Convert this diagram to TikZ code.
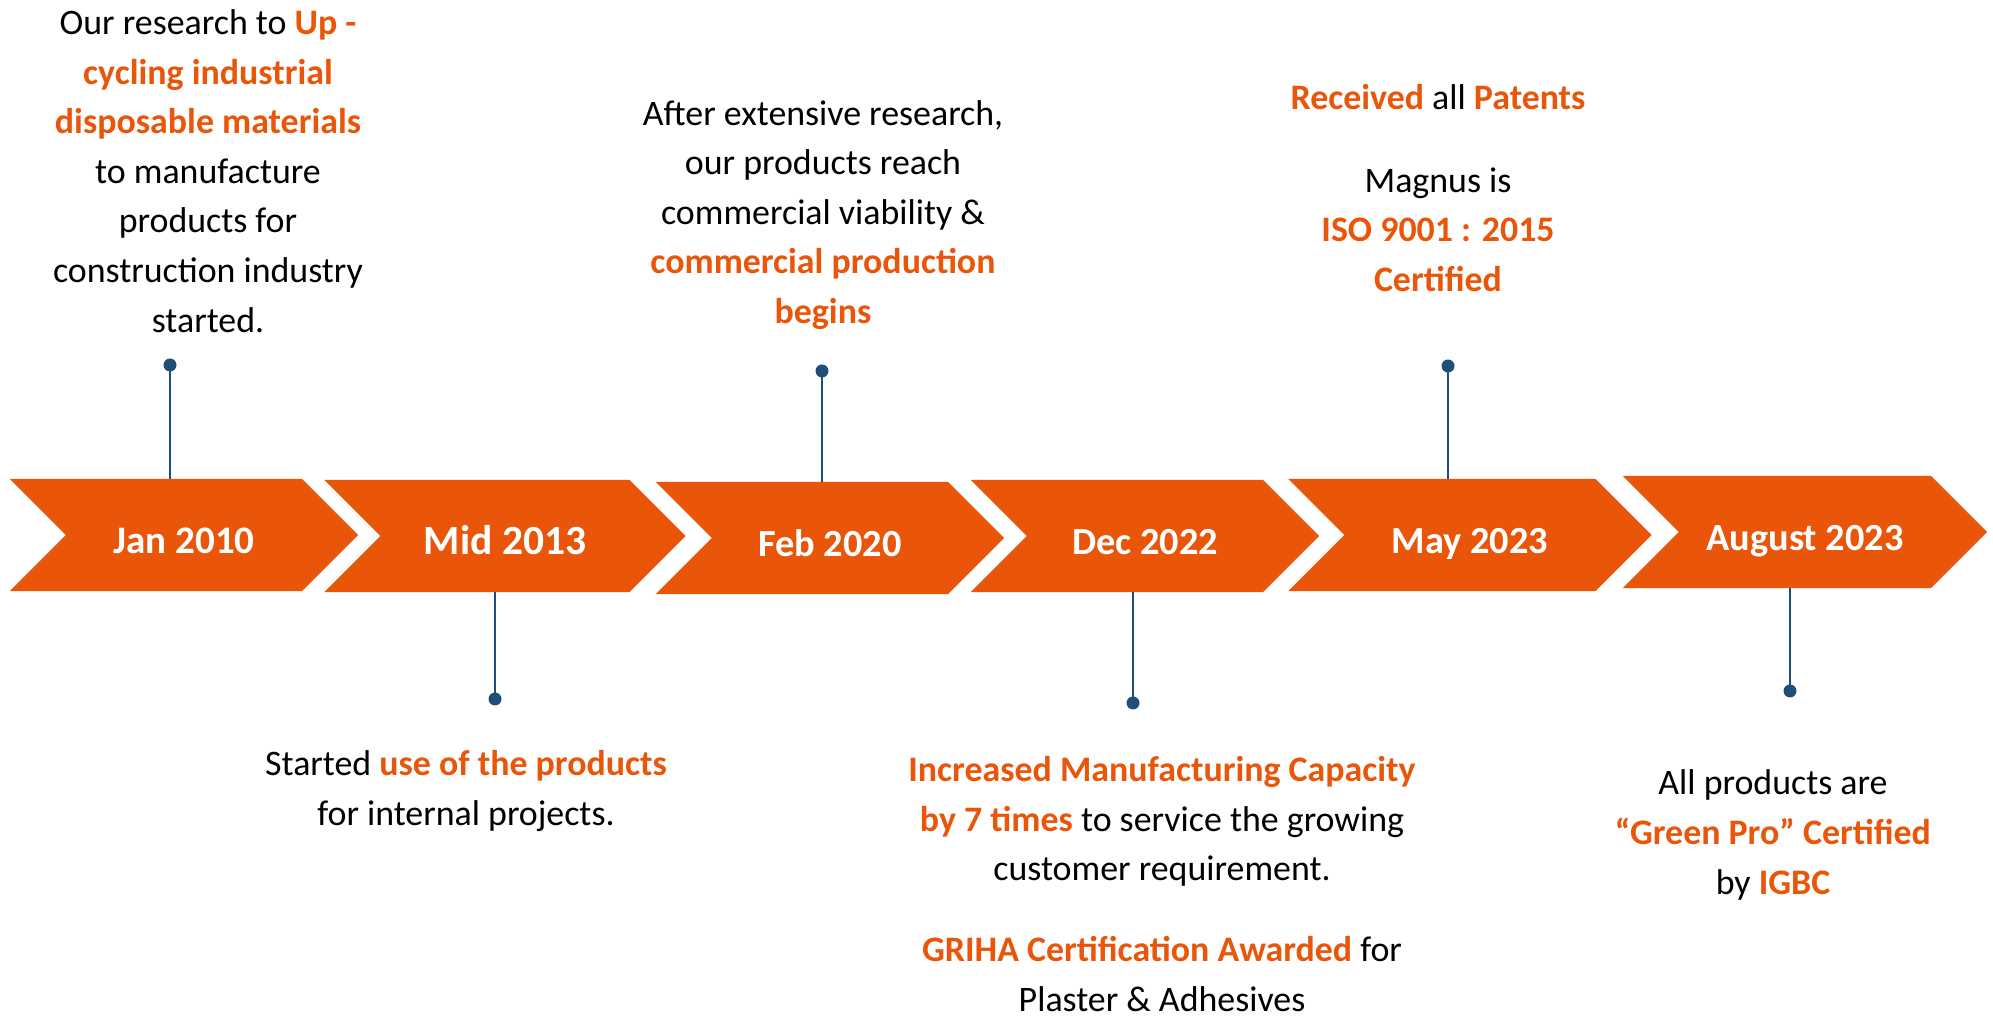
\documentclass[tikz,border=0pt]{standalone}
\usepackage{fontspec}
\setmainfont{Carlito}
\usepackage{tikz}
\usetikzlibrary{shapes.symbols}
\usepackage{xcolor}
\definecolor{myorange}{HTML}{E95509}
\definecolor{mydarkblue}{HTML}{1F4E79}
\newcommand{\hl}[1]{{\bfseries\color{myorange}#1}}
\tikzset{
  chevron/.style={signal,signal from=west,signal to=east,signal pointer angle=90,
                  fill=myorange,draw=none,text=white,minimum height=1.12cm,
                  inner sep=0,outer sep=0,text height=1.05em,text depth=0em},
  pin dot/.style={circle,fill=mydarkblue,inner sep=0,minimum size=0.13cm},
  stem/.style={mydarkblue,line width=0.025cm},
  story/.style={align=center,inner sep=0,font=\fontsize{10.2}{14.1}\selectfont}
}

\begin{document}
\begin{tikzpicture}[x=0.01cm,y=-0.01cm]
  \useasboundingbox (0,0) rectangle (1993,1016);

  % Draw the chevrons of the time line
  \foreach \t/\cx/\cy/\w/\fs [count=\i] in {Jan 2010/184/535/3.48/11.1,
      Mid 2013/505/536/3.61/11.8, Feb 2020/830/538/3.48/10.9,
      Dec 2022/1145/536/3.48/10.9, May 2023/1470/535/3.63/10.9,
      August 2023/1805/532/3.64/10.9}{%
    \node[chevron,minimum width=\w cm,font=\bfseries\fontsize{\fs}{14}\selectfont] (c\i) at (\cx,\cy) {\t};
  }

  % Pins: dot plus stem to the chevron
  \foreach \x/\y/\side [count=\i] in {170/365/north, 495/699/south, 822/371/north,
      1133/703/south, 1448/366/north, 1790/691/south}{%
    \node[pin dot] (d\i) at (\x,\y) {};
    \draw[stem] (d\i.center) -- (d\i |- c\i.\side);
  }

  % Texts above the time line
  \node[story] (s1) at (208,171) {Our research to \hl{Up -}\\ \hl{cycling industrial}\\
    \hl{disposable materials}\\ to manufacture\\ products for\\ construction industry\\ started.};
  \node[story] (s3) at (823,215) {After extensive research,\\ our products reach\\
    commercial viability \&\\ \hl{commercial production}\\ \hl{begins}};
  \node[story] (s5) at (1438,188) {\hl{Received} all \hl{Patents}\\[0.33cm] Magnus is\\
    \hl{ISO 9001 : 2015}\\ \hl{Certified}};

  % Texts below the time line
  \node[story] (s2) at (466,791) {Started \hl{use of the products}\\ for internal projects.};
  \node[story] (s4) at (1162,884) {\hl{Increased Manufacturing Capacity}\\
    \hl{by 7 times} to service the growing\\ customer requirement.\\[0.31cm]
    \hl{GRIHA Certification Awarded} for\\ Plaster \& Adhesives};
  \node[story] (s6) at (1773,835) {All products are\\ \hl{“Green Pro” Certified}\\ by \hl{IGBC}};
\end{tikzpicture}
\end{document}
